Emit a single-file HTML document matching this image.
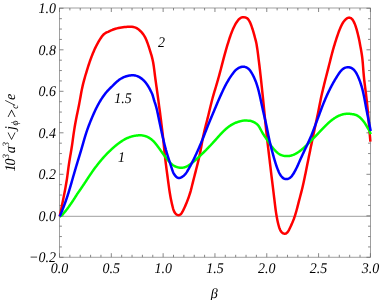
<!DOCTYPE html>
<html><head><meta charset="utf-8"><title>plot</title>
<style>
html,body{margin:0;padding:0;background:#fff;}
body{width:382px;height:300px;overflow:hidden;}
svg{display:block;will-change:transform;text-rendering:geometricPrecision;}
text{font-family:"Liberation Serif",serif;font-style:italic;font-size:14px;fill:#000;}
</style></head><body>
<svg width="382" height="300" viewBox="0 0 382 300">
<rect width="382" height="300" fill="#fff"/>
<path d="M59.5,216.3H370.4" stroke="#8c8c8c" stroke-width="0.85" fill="none"/>
<rect x="59.5" y="8.0" width="310.95" height="249.20" fill="none" stroke="#777" stroke-width="0.7"/>
<path d="M59.50,257.20v-4M59.50,8.00v4M69.86,257.20v-2.4M69.86,8.00v2.4M80.23,257.20v-2.4M80.23,8.00v2.4M90.59,257.20v-2.4M90.59,8.00v2.4M100.95,257.20v-2.4M100.95,8.00v2.4M111.32,257.20v-4M111.32,8.00v4M121.68,257.20v-2.4M121.68,8.00v2.4M132.04,257.20v-2.4M132.04,8.00v2.4M142.41,257.20v-2.4M142.41,8.00v2.4M152.77,257.20v-2.4M152.77,8.00v2.4M163.13,257.20v-4M163.13,8.00v4M173.50,257.20v-2.4M173.50,8.00v2.4M183.86,257.20v-2.4M183.86,8.00v2.4M194.22,257.20v-2.4M194.22,8.00v2.4M204.59,257.20v-2.4M204.59,8.00v2.4M214.95,257.20v-4M214.95,8.00v4M225.31,257.20v-2.4M225.31,8.00v2.4M235.68,257.20v-2.4M235.68,8.00v2.4M246.04,257.20v-2.4M246.04,8.00v2.4M256.40,257.20v-2.4M256.40,8.00v2.4M266.77,257.20v-4M266.77,8.00v4M277.13,257.20v-2.4M277.13,8.00v2.4M287.49,257.20v-2.4M287.49,8.00v2.4M297.86,257.20v-2.4M297.86,8.00v2.4M308.22,257.20v-2.4M308.22,8.00v2.4M318.58,257.20v-4M318.58,8.00v4M328.95,257.20v-2.4M328.95,8.00v2.4M339.31,257.20v-2.4M339.31,8.00v2.4M349.67,257.20v-2.4M349.67,8.00v2.4M360.04,257.20v-2.4M360.04,8.00v2.4M370.40,257.20v-4M370.40,8.00v4M59.50,257.30h4M370.45,257.30h-4M59.50,246.93h2.4M370.45,246.93h-2.4M59.50,236.55h2.4M370.45,236.55h-2.4M59.50,226.18h2.4M370.45,226.18h-2.4M59.50,215.80h4M370.45,215.80h-4M59.50,205.43h2.4M370.45,205.43h-2.4M59.50,195.05h2.4M370.45,195.05h-2.4M59.50,184.68h2.4M370.45,184.68h-2.4M59.50,174.30h4M370.45,174.30h-4M59.50,163.93h2.4M370.45,163.93h-2.4M59.50,153.55h2.4M370.45,153.55h-2.4M59.50,143.18h2.4M370.45,143.18h-2.4M59.50,132.80h4M370.45,132.80h-4M59.50,122.43h2.4M370.45,122.43h-2.4M59.50,112.05h2.4M370.45,112.05h-2.4M59.50,101.68h2.4M370.45,101.68h-2.4M59.50,91.30h4M370.45,91.30h-4M59.50,80.93h2.4M370.45,80.93h-2.4M59.50,70.55h2.4M370.45,70.55h-2.4M59.50,60.18h2.4M370.45,60.18h-2.4M59.50,49.80h4M370.45,49.80h-4M59.50,39.43h2.4M370.45,39.43h-2.4M59.50,29.05h2.4M370.45,29.05h-2.4M59.50,18.68h2.4M370.45,18.68h-2.4M59.50,8.30h4M370.45,8.30h-4" stroke="#6a6a6a" stroke-width="0.8" fill="none"/>
<g fill="none" stroke-width="2.5" stroke-linejoin="round" stroke-linecap="butt">
<path d="M59.70,216.55 L60.18,214.31 L60.46,212.94 L60.71,211.72 L60.97,210.47 L61.24,209.16 L61.51,207.81 L61.79,206.41 L62.08,204.98 L62.37,203.50 L62.67,202.00 L62.97,200.48 L63.28,198.94 L63.59,197.38 L63.90,195.83 L64.20,194.27 L64.51,192.72 L64.80,191.17 L65.10,189.64 L65.38,188.11 L65.66,186.59 L65.92,185.07 L66.18,183.57 L66.44,182.06 L66.68,180.57 L66.91,179.09 L67.13,177.61 L67.34,176.16 L67.53,174.70 L67.72,173.26 L67.90,171.81 L68.09,170.35 L68.28,168.87 L68.48,167.39 L68.69,165.89 L68.91,164.39 L69.14,162.88 L69.37,161.37 L69.62,159.86 L69.87,158.36 L70.12,156.87 L70.37,155.39 L70.63,153.91 L70.88,152.44 L71.12,150.97 L71.37,149.50 L71.60,148.03 L71.84,146.56 L72.06,145.09 L72.28,143.62 L72.49,142.14 L72.69,140.65 L72.89,139.17 L73.10,137.67 L73.30,136.17 L73.51,134.66 L73.73,133.14 L73.96,131.62 L74.19,130.10 L74.43,128.57 L74.68,127.04 L74.94,125.51 L75.21,123.99 L75.48,122.48 L75.76,120.99 L76.04,119.50 L76.33,118.03 L76.63,116.56 L76.92,115.10 L77.22,113.64 L77.52,112.17 L77.83,110.68 L78.14,109.19 L78.44,107.68 L78.75,106.16 L79.05,104.64 L79.34,103.13 L79.62,101.62 L79.90,100.12 L80.17,98.64 L80.43,97.16 L80.69,95.70 L80.95,94.24 L81.21,92.79 L81.49,91.33 L81.77,89.86 L82.08,88.39 L82.40,86.90 L82.75,85.40 L83.11,83.88 L83.50,82.36 L83.90,80.84 L84.31,79.31 L84.74,77.79 L85.17,76.28 L85.61,74.77 L86.06,73.27 L86.51,71.79 L86.96,70.31 L87.42,68.84 L87.88,67.39 L88.34,65.94 L88.81,64.50 L89.28,63.08 L89.76,61.66 L90.25,60.26 L90.75,58.86 L91.26,57.47 L91.78,56.09 L92.33,54.70 L92.90,53.30 L93.49,51.90 L94.10,50.49 L94.74,49.07 L95.41,47.66 L96.11,46.27 L96.82,44.89 L97.54,43.53 L98.28,42.21 L99.02,40.91 L99.78,39.65 L100.56,38.43 L101.36,37.24 L102.19,36.09 L103.10,34.98 L104.11,34.04 L105.29,33.20 L106.62,32.45 L108.08,31.81 L109.57,31.05 L111.06,30.37 L112.54,29.79 L114.00,29.27 L115.47,28.81 L116.96,28.40 L118.46,28.03 L119.98,27.68 L121.51,27.43 L123.03,27.23 L124.55,27.06 L126.05,26.92 L127.53,26.83 L128.98,26.77 L130.42,26.76 L131.89,26.83 L133.37,27.01 L134.80,27.35 L136.16,27.89 L137.50,28.65 L138.81,29.62 L140.07,30.75 L141.28,31.95 L142.32,33.12 L143.20,34.27 L143.98,35.42 L144.71,36.63 L145.40,37.88 L146.02,39.19 L146.57,40.56 L147.12,41.96 L147.65,43.40 L148.17,44.87 L148.67,46.36 L149.16,47.86 L149.64,49.35 L150.10,50.84 L150.56,52.32 L151.01,53.78 L151.44,55.23 L151.84,56.67 L152.20,58.09 L152.54,59.51 L152.85,60.93 L153.13,62.36 L153.38,63.78 L153.61,65.22 L153.83,66.67 L154.02,68.14 L154.22,69.63 L154.41,71.15 L154.60,72.69 L154.80,74.25 L155.00,75.82 L155.20,77.39 L155.41,78.96 L155.62,80.53 L155.84,82.08 L156.05,83.62 L156.26,85.15 L156.47,86.66 L156.69,88.16 L156.89,89.66 L157.10,91.16 L157.31,92.67 L157.52,94.17 L157.73,95.68 L157.94,97.18 L158.14,98.68 L158.35,100.17 L158.54,101.65 L158.74,103.13 L158.93,104.61 L159.13,106.08 L159.33,107.56 L159.53,109.04 L159.73,110.52 L159.93,112.02 L160.13,113.52 L160.33,115.04 L160.52,116.57 L160.71,118.11 L160.91,119.66 L161.10,121.22 L161.29,122.78 L161.48,124.34 L161.67,125.89 L161.85,127.43 L162.04,128.96 L162.22,130.48 L162.40,131.99 L162.58,133.50 L162.75,134.99 L162.92,136.48 L163.09,137.96 L163.25,139.44 L163.41,140.93 L163.56,142.41 L163.71,143.89 L163.86,145.36 L164.01,146.84 L164.15,148.32 L164.30,149.80 L164.44,151.27 L164.58,152.75 L164.73,154.22 L164.88,155.70 L165.05,157.18 L165.22,158.66 L165.40,160.15 L165.58,161.64 L165.76,163.15 L165.95,164.67 L166.15,166.21 L166.35,167.75 L166.56,169.30 L166.77,170.86 L166.97,172.42 L167.18,173.96 L167.39,175.50 L167.59,177.03 L167.79,178.54 L167.98,180.03 L168.18,181.51 L168.38,182.98 L168.57,184.45 L168.77,185.91 L168.98,187.37 L169.19,188.84 L169.41,190.32 L169.63,191.79 L169.87,193.27 L170.12,194.74 L170.37,196.21 L170.64,197.68 L170.92,199.14 L171.22,200.60 L171.52,202.04 L171.84,203.48 L172.18,204.90 L172.52,206.32 L172.88,207.71 L173.27,209.10 L173.74,210.53 L174.39,212.01 L175.32,213.43 L176.59,214.57 L178.08,215.15 L179.52,215.03 L180.75,214.21 L181.76,212.90 L182.64,211.36 L183.41,209.88 L184.08,208.51 L184.69,207.20 L185.28,205.88 L185.85,204.55 L186.41,203.20 L186.95,201.85 L187.48,200.49 L188.00,199.12 L188.51,197.73 L189.00,196.33 L189.47,194.92 L189.92,193.50 L190.36,192.06 L190.78,190.62 L191.16,189.17 L191.53,187.72 L191.89,186.27 L192.25,184.82 L192.62,183.36 L192.98,181.90 L193.35,180.43 L193.72,178.95 L194.10,177.45 L194.49,175.95 L194.88,174.43 L195.28,172.90 L195.68,171.36 L196.07,169.81 L196.46,168.27 L196.85,166.73 L197.23,165.20 L197.61,163.69 L197.97,162.19 L198.33,160.71 L198.68,159.24 L199.02,157.78 L199.35,156.33 L199.67,154.88 L199.98,153.44 L200.27,152.00 L200.55,150.56 L200.83,149.12 L201.09,147.67 L201.35,146.22 L201.61,144.77 L201.87,143.30 L202.14,141.82 L202.41,140.32 L202.70,138.81 L203.01,137.28 L203.33,135.75 L203.67,134.20 L204.01,132.66 L204.37,131.12 L204.74,129.59 L205.11,128.08 L205.49,126.58 L205.86,125.11 L206.23,123.65 L206.60,122.20 L206.97,120.76 L207.34,119.32 L207.70,117.88 L208.06,116.43 L208.43,114.98 L208.79,113.51 L209.14,112.03 L209.50,110.53 L209.86,109.03 L210.23,107.51 L210.59,106.00 L210.96,104.48 L211.33,102.97 L211.70,101.47 L212.08,99.98 L212.47,98.49 L212.86,97.02 L213.28,95.55 L213.71,94.09 L214.14,92.65 L214.57,91.22 L215.00,89.80 L215.42,88.39 L215.84,87.00 L216.26,85.61 L216.67,84.23 L217.07,82.85 L217.47,81.47 L217.87,80.09 L218.26,78.69 L218.66,77.27 L219.06,75.84 L219.45,74.39 L219.85,72.92 L220.24,71.44 L220.64,69.95 L221.03,68.45 L221.43,66.94 L221.82,65.42 L222.21,63.91 L222.60,62.40 L222.99,60.88 L223.38,59.37 L223.78,57.86 L224.19,56.36 L224.59,54.86 L225.01,53.36 L225.43,51.87 L225.85,50.38 L226.28,48.90 L226.71,47.43 L227.14,45.95 L227.59,44.49 L228.03,43.02 L228.49,41.56 L228.95,40.11 L229.42,38.67 L229.89,37.25 L230.38,35.83 L230.88,34.44 L231.39,33.06 L231.91,31.70 L232.46,30.37 L233.02,29.05 L233.61,27.75 L234.23,26.47 L234.88,25.21 L235.57,23.96 L236.31,22.72 L237.14,21.46 L238.11,20.18 L239.25,18.96 L240.55,17.95 L242.02,17.31 L243.65,17.13 L245.37,17.41 L246.84,18.06 L247.97,19.03 L248.87,20.25 L249.66,21.63 L250.34,23.05 L250.93,24.47 L251.45,25.89 L251.94,27.31 L252.41,28.76 L252.87,30.22 L253.31,31.70 L253.74,33.19 L254.16,34.69 L254.57,36.20 L254.97,37.70 L255.37,39.19 L255.75,40.67 L256.13,42.15 L256.43,43.61 L256.68,45.06 L256.91,46.51 L257.14,47.97 L257.36,49.43 L257.58,50.90 L257.78,52.38 L257.97,53.87 L258.16,55.38 L258.34,56.90 L258.51,58.41 L258.71,59.94 L258.90,61.46 L259.10,62.97 L259.28,64.49 L259.47,65.99 L259.64,67.49 L259.82,68.99 L259.99,70.48 L260.15,71.96 L260.31,73.44 L260.49,74.92 L260.66,76.39 L260.83,77.87 L260.99,79.34 L261.15,80.82 L261.31,82.30 L261.47,83.79 L261.63,85.28 L261.79,86.78 L261.95,88.29 L262.11,89.81 L262.26,91.33 L262.42,92.86 L262.58,94.39 L262.74,95.93 L262.90,97.47 L263.06,99.00 L263.22,100.54 L263.38,102.06 L263.53,103.58 L263.68,105.08 L263.83,106.58 L263.98,108.07 L264.12,109.56 L264.27,111.05 L264.41,112.55 L264.56,114.05 L264.70,115.55 L264.85,117.06 L265.00,118.56 L265.15,120.07 L265.30,121.57 L265.45,123.07 L265.60,124.57 L265.75,126.07 L265.91,127.58 L266.07,129.10 L266.23,130.62 L266.39,132.16 L266.55,133.70 L266.72,135.25 L266.89,136.80 L267.06,138.34 L267.23,139.88 L267.41,141.40 L267.58,142.92 L267.75,144.42 L267.93,145.92 L268.10,147.41 L268.28,148.89 L268.45,150.37 L268.63,151.86 L268.81,153.35 L268.99,154.84 L269.17,156.35 L269.35,157.87 L269.53,159.40 L269.72,160.94 L269.90,162.50 L270.09,164.06 L270.28,165.62 L270.46,167.18 L270.65,168.73 L270.83,170.27 L271.01,171.79 L271.19,173.30 L271.37,174.80 L271.55,176.28 L271.73,177.76 L271.91,179.24 L272.09,180.72 L272.27,182.20 L272.46,183.69 L272.64,185.18 L272.83,186.67 L273.01,188.17 L273.19,189.65 L273.37,191.14 L273.55,192.62 L273.73,194.10 L273.91,195.57 L274.08,197.04 L274.26,198.51 L274.43,199.98 L274.60,201.46 L274.78,202.95 L274.96,204.44 L275.14,205.95 L275.34,207.47 L275.54,209.01 L275.75,210.55 L275.97,212.11 L276.21,213.66 L276.46,215.23 L276.73,216.79 L277.02,218.34 L277.33,219.89 L277.66,221.43 L278.00,222.95 L278.37,224.46 L278.77,225.95 L279.19,227.40 L279.66,228.78 L280.23,230.09 L280.96,231.34 L281.92,232.48 L283.18,233.35 L284.61,233.73 L286.03,233.47 L287.26,232.56 L288.26,231.22 L289.05,229.78 L289.69,228.42 L290.29,227.18 L290.88,225.94 L291.48,224.65 L292.07,223.34 L292.64,221.99 L293.20,220.61 L293.74,219.21 L294.25,217.79 L294.75,216.35 L295.22,214.90 L295.67,213.45 L296.09,211.99 L296.51,210.52 L296.90,209.05 L297.29,207.58 L297.67,206.10 L298.05,204.61 L298.43,203.13 L298.81,201.66 L299.19,200.18 L299.58,198.72 L299.97,197.25 L300.35,195.80 L300.73,194.34 L301.11,192.88 L301.49,191.42 L301.86,189.95 L302.22,188.48 L302.58,187.00 L302.92,185.51 L303.26,184.02 L303.60,182.53 L303.92,181.04 L304.24,179.56 L304.55,178.08 L304.86,176.60 L305.16,175.12 L305.46,173.65 L305.76,172.18 L306.05,170.71 L306.35,169.24 L306.64,167.76 L306.94,166.27 L307.24,164.77 L307.54,163.26 L307.85,161.73 L308.16,160.19 L308.47,158.64 L308.79,157.08 L309.11,155.52 L309.43,153.97 L309.74,152.42 L310.06,150.88 L310.37,149.35 L310.68,147.85 L310.98,146.36 L311.28,144.88 L311.59,143.42 L311.89,141.97 L312.19,140.53 L312.49,139.09 L312.79,137.66 L313.09,136.23 L313.40,134.79 L313.70,133.35 L314.01,131.91 L314.31,130.45 L314.62,128.97 L314.94,127.49 L315.25,125.99 L315.57,124.49 L315.89,122.99 L316.21,121.50 L316.53,120.01 L316.85,118.53 L317.17,117.06 L317.48,115.59 L317.78,114.13 L318.08,112.67 L318.37,111.20 L318.66,109.72 L318.95,108.23 L319.25,106.73 L319.54,105.22 L319.84,103.69 L320.15,102.16 L320.46,100.63 L320.77,99.09 L321.10,97.57 L321.42,96.06 L321.76,94.56 L322.09,93.08 L322.43,91.62 L322.77,90.18 L323.10,88.75 L323.45,87.33 L323.79,85.93 L324.13,84.52 L324.48,83.12 L324.83,81.71 L325.19,80.30 L325.55,78.88 L325.91,77.45 L326.28,76.01 L326.66,74.56 L327.04,73.09 L327.42,71.61 L327.80,70.12 L328.19,68.61 L328.58,67.08 L328.96,65.55 L329.35,64.01 L329.74,62.47 L330.13,60.94 L330.50,59.42 L330.88,57.92 L331.25,56.44 L331.63,54.97 L332.01,53.53 L332.40,52.09 L332.79,50.67 L333.18,49.26 L333.59,47.85 L334.00,46.45 L334.42,45.04 L334.84,43.63 L335.28,42.21 L335.73,40.79 L336.19,39.36 L336.65,37.93 L337.13,36.49 L337.62,35.05 L338.13,33.62 L338.64,32.19 L339.17,30.77 L339.72,29.36 L340.31,27.95 L340.94,26.56 L341.60,25.17 L342.32,23.77 L343.20,22.33 L344.28,20.87 L345.51,19.51 L346.81,18.43 L348.13,17.76 L349.50,17.62 L350.83,18.07 L352.05,19.09 L353.11,20.52 L353.98,22.11 L354.69,23.66 L355.26,25.13 L355.76,26.57 L356.21,28.01 L356.63,29.46 L357.03,30.89 L357.41,32.33 L357.77,33.76 L358.12,35.19 L358.45,36.62 L358.77,38.04 L359.08,39.46 L359.39,40.88 L359.65,42.31 L359.91,43.74 L360.18,45.18 L360.44,46.62 L360.71,48.08 L360.98,49.54 L361.24,51.02 L361.49,52.50 L361.73,53.99 L361.95,55.48 L362.16,56.99 L362.34,58.50 L362.51,60.02 L362.65,61.56 L362.79,63.11 L362.92,64.68 L363.04,66.26 L363.16,67.85 L363.28,69.43 L363.40,71.01 L363.53,72.57 L363.67,74.11 L363.80,75.63 L363.94,77.12 L364.09,78.59 L364.24,80.05 L364.41,81.49 L364.58,82.91 L364.76,84.34 L364.94,85.76 L365.12,87.18 L365.30,88.62 L365.49,90.07 L365.67,91.53 L365.86,93.02 L366.04,94.52 L366.23,96.05 L366.41,97.58 L366.58,99.13 L366.75,100.69 L366.92,102.25 L367.08,103.80 L367.24,105.35 L367.40,106.89 L367.54,108.42 L367.69,109.94 L367.83,111.46 L367.96,112.97 L368.10,114.49 L368.23,116.02 L368.36,117.56 L368.49,119.11 L368.62,120.67 L368.75,122.23 L368.88,123.81 L369.01,125.38 L369.14,126.94 L369.27,128.49 L369.40,130.02 L369.52,131.51 L369.64,132.96 L369.76,134.36 L369.88,135.70 L369.99,136.97 L370.10,138.18 L370.21,139.51 L370.40,141.60" stroke="#ff0000"/>
<path d="M59.70,216.55 L60.33,216.27 L60.86,215.95 L61.31,215.60 L61.71,215.25 L62.09,214.90 L62.45,214.54 L62.80,214.18 L63.15,213.80 L63.50,213.41 L63.86,213.01 L64.22,212.59 L64.57,212.18 L64.93,211.75 L65.28,211.33 L65.63,210.90 L65.98,210.46 L66.33,210.02 L66.68,209.58 L67.02,209.13 L67.36,208.69 L67.70,208.24 L68.03,207.79 L68.37,207.33 L68.70,206.88 L69.02,206.42 L69.35,205.96 L69.67,205.51 L69.99,205.05 L70.31,204.59 L70.62,204.14 L70.93,203.69 L71.24,203.24 L71.55,202.79 L71.86,202.34 L72.16,201.89 L72.46,201.44 L72.76,200.99 L73.06,200.54 L73.35,200.08 L73.65,199.63 L73.94,199.18 L74.23,198.73 L74.53,198.28 L74.82,197.82 L75.10,197.37 L75.39,196.92 L75.68,196.47 L75.96,196.02 L76.25,195.57 L76.53,195.12 L76.82,194.66 L77.10,194.21 L77.38,193.77 L77.67,193.37 L77.95,192.97 L78.23,192.57 L78.51,192.16 L78.79,191.76 L79.07,191.36 L79.35,190.95 L79.63,190.55 L79.91,190.14 L80.19,189.74 L80.47,189.33 L80.74,188.93 L81.02,188.52 L81.30,188.11 L81.57,187.71 L81.85,187.30 L82.12,186.89 L82.40,186.48 L82.67,186.08 L82.94,185.67 L83.22,185.26 L83.49,184.85 L83.76,184.44 L84.03,184.03 L84.31,183.62 L84.58,183.20 L84.85,182.79 L85.13,182.38 L85.40,181.96 L85.67,181.55 L85.95,181.14 L86.22,180.72 L86.50,180.30 L86.78,179.88 L87.06,179.46 L87.33,179.03 L87.61,178.61 L87.89,178.19 L88.17,177.77 L88.45,177.35 L88.73,176.92 L89.01,176.50 L89.29,176.08 L89.58,175.66 L89.86,175.24 L90.14,174.82 L90.42,174.40 L90.70,173.99 L90.98,173.57 L91.27,173.16 L91.55,172.74 L91.83,172.33 L92.11,171.92 L92.40,171.51 L92.69,171.10 L92.97,170.69 L93.26,170.28 L93.55,169.88 L93.84,169.48 L94.13,169.07 L94.43,168.67 L94.72,168.27 L95.02,167.87 L95.32,167.48 L95.63,167.08 L95.93,166.68 L96.24,166.29 L96.55,165.88 L96.86,165.47 L97.18,165.06 L97.50,164.65 L97.82,164.24 L98.14,163.83 L98.46,163.42 L98.79,163.01 L99.12,162.60 L99.45,162.20 L99.78,161.79 L100.12,161.39 L100.45,160.99 L100.79,160.59 L101.13,160.18 L101.47,159.78 L101.81,159.39 L102.16,158.99 L102.50,158.59 L102.85,158.20 L103.19,157.81 L103.54,157.41 L103.89,157.02 L104.24,156.64 L104.59,156.25 L104.95,155.87 L105.30,155.49 L105.66,155.11 L106.01,154.73 L106.37,154.35 L106.73,153.98 L107.08,153.61 L107.45,153.24 L107.81,152.88 L108.17,152.51 L108.54,152.15 L108.90,151.79 L109.27,151.44 L109.64,151.08 L110.01,150.73 L110.39,150.38 L110.76,150.01 L111.14,149.65 L111.52,149.29 L111.90,148.94 L112.29,148.58 L112.67,148.23 L113.06,147.88 L113.46,147.54 L113.85,147.19 L114.25,146.85 L114.65,146.51 L115.05,146.17 L115.45,145.83 L115.86,145.50 L116.27,145.17 L116.68,144.84 L117.09,144.51 L117.51,144.19 L117.93,143.87 L118.35,143.55 L118.78,143.23 L119.21,142.92 L119.64,142.60 L120.07,142.30 L120.51,141.99 L120.95,141.69 L121.39,141.39 L121.84,141.10 L122.29,140.81 L122.74,140.53 L123.20,140.25 L123.67,139.98 L124.13,139.71 L124.60,139.45 L125.08,139.18 L125.56,138.92 L126.04,138.68 L126.53,138.44 L127.03,138.21 L127.53,137.99 L128.03,137.77 L128.54,137.57 L129.05,137.37 L129.57,137.18 L130.08,137.00 L130.60,136.83 L131.13,136.67 L131.65,136.51 L132.17,136.37 L132.70,136.24 L133.23,136.12 L133.75,136.00 L134.28,135.89 L134.80,135.80 L135.32,135.71 L135.84,135.62 L136.35,135.55 L136.87,135.49 L137.37,135.43 L137.88,135.39 L138.38,135.35 L138.88,135.31 L139.38,135.29 L139.87,135.28 L140.36,135.28 L140.86,135.30 L141.35,135.33 L141.85,135.38 L142.35,135.44 L142.85,135.52 L143.35,135.61 L143.86,135.72 L144.37,135.85 L144.88,135.99 L145.38,136.14 L145.89,136.31 L146.39,136.49 L146.88,136.68 L147.37,136.88 L147.85,137.10 L148.32,137.32 L148.78,137.58 L149.23,137.85 L149.67,138.13 L150.10,138.42 L150.52,138.72 L150.93,139.02 L151.33,139.33 L151.73,139.65 L152.11,139.98 L152.49,140.32 L152.86,140.66 L153.22,141.00 L153.58,141.35 L153.94,141.71 L154.29,142.08 L154.63,142.47 L154.97,142.88 L155.31,143.28 L155.64,143.69 L155.97,144.11 L156.30,144.52 L156.63,144.94 L156.95,145.37 L157.27,145.80 L157.60,146.23 L157.91,146.66 L158.23,147.09 L158.55,147.52 L158.86,147.95 L159.17,148.38 L159.49,148.81 L159.80,149.24 L160.11,149.68 L160.42,150.11 L160.73,150.54 L161.04,150.98 L161.36,151.41 L161.67,151.85 L161.98,152.28 L162.29,152.72 L162.60,153.15 L162.91,153.59 L163.23,154.02 L163.54,154.45 L163.86,154.88 L164.18,155.31 L164.50,155.74 L164.82,156.16 L165.14,156.59 L165.46,157.02 L165.79,157.45 L166.12,157.89 L166.45,158.32 L166.79,158.75 L167.12,159.17 L167.46,159.60 L167.81,160.02 L168.16,160.43 L168.51,160.84 L168.87,161.25 L169.23,161.65 L169.60,162.05 L169.97,162.44 L170.35,162.83 L170.74,163.20 L171.14,163.57 L171.54,163.94 L171.96,164.29 L172.38,164.62 L172.80,164.94 L173.23,165.25 L173.67,165.53 L174.11,165.80 L174.57,166.05 L175.03,166.29 L175.50,166.50 L175.99,166.71 L176.48,166.90 L176.99,167.07 L177.52,167.23 L178.05,167.37 L178.59,167.49 L179.14,167.60 L179.69,167.68 L180.25,167.75 L180.80,167.77 L181.35,167.76 L181.89,167.73 L182.42,167.69 L182.94,167.62 L183.46,167.53 L183.96,167.42 L184.46,167.29 L184.94,167.14 L185.43,166.97 L185.90,166.78 L186.37,166.57 L186.84,166.34 L187.31,166.09 L187.76,165.84 L188.22,165.57 L188.66,165.29 L189.10,165.00 L189.54,164.71 L189.97,164.42 L190.39,164.11 L190.82,163.81 L191.23,163.50 L191.65,163.18 L192.06,162.86 L192.47,162.54 L192.88,162.21 L193.29,161.88 L193.69,161.55 L194.09,161.22 L194.49,160.88 L194.89,160.54 L195.29,160.20 L195.68,159.85 L196.08,159.50 L196.47,159.15 L196.87,158.80 L197.26,158.44 L197.65,158.09 L198.04,157.73 L198.43,157.37 L198.82,157.01 L199.21,156.65 L199.59,156.28 L199.98,155.92 L200.36,155.56 L200.74,155.19 L201.12,154.82 L201.50,154.46 L201.88,154.09 L202.26,153.72 L202.64,153.35 L203.01,152.99 L203.39,152.62 L203.76,152.25 L204.13,151.88 L204.50,151.52 L204.87,151.15 L205.24,150.78 L205.60,150.41 L205.97,150.05 L206.33,149.68 L206.69,149.31 L207.05,148.95 L207.41,148.58 L207.77,148.21 L208.13,147.84 L208.49,147.47 L208.84,147.10 L209.20,146.73 L209.55,146.36 L209.90,145.99 L210.26,145.62 L210.61,145.24 L210.96,144.87 L211.31,144.50 L211.66,144.12 L212.01,143.74 L212.36,143.36 L212.71,142.98 L213.05,142.60 L213.40,142.22 L213.75,141.84 L214.10,141.46 L214.44,141.07 L214.79,140.69 L215.14,140.30 L215.48,139.91 L215.83,139.53 L216.18,139.14 L216.52,138.75 L216.87,138.36 L217.22,137.97 L217.56,137.58 L217.91,137.19 L218.26,136.80 L218.61,136.41 L218.96,136.02 L219.32,135.63 L219.67,135.25 L220.02,134.86 L220.38,134.47 L220.74,134.09 L221.10,133.70 L221.46,133.32 L221.82,132.94 L222.19,132.56 L222.56,132.18 L222.93,131.81 L223.30,131.43 L223.68,131.06 L224.06,130.69 L224.45,130.33 L224.83,129.97 L225.22,129.61 L225.61,129.26 L226.01,128.91 L226.41,128.56 L226.81,128.22 L227.22,127.89 L227.63,127.56 L228.04,127.24 L228.46,126.91 L228.88,126.59 L229.31,126.28 L229.74,125.97 L230.17,125.67 L230.61,125.38 L231.05,125.09 L231.49,124.82 L231.94,124.55 L232.40,124.29 L232.86,124.04 L233.32,123.80 L233.79,123.56 L234.26,123.34 L234.74,123.12 L235.23,122.92 L235.72,122.72 L236.21,122.53 L236.71,122.35 L237.21,122.19 L237.72,122.03 L238.23,121.88 L238.74,121.71 L239.26,121.54 L239.78,121.39 L240.30,121.24 L240.81,121.11 L241.33,120.99 L241.85,120.87 L242.37,120.78 L242.89,120.69 L243.41,120.62 L243.94,120.56 L244.46,120.52 L244.98,120.49 L245.50,120.49 L246.02,120.49 L246.53,120.52 L247.05,120.56 L247.55,120.62 L248.06,120.69 L248.55,120.72 L249.04,120.71 L249.53,120.72 L250.01,120.74 L250.49,120.82 L250.97,120.97 L251.45,121.14 L251.93,121.32 L252.41,121.52 L252.90,121.72 L253.38,121.94 L253.85,122.17 L254.33,122.41 L254.79,122.66 L255.25,122.93 L255.69,123.21 L256.12,123.50 L256.54,123.81 L256.94,124.13 L257.31,124.46 L257.67,124.81 L258.02,125.17 L258.34,125.56 L258.65,126.01 L258.95,126.47 L259.23,126.93 L259.51,127.40 L259.78,127.87 L260.04,128.35 L260.30,128.83 L260.56,129.31 L260.81,129.79 L261.07,130.27 L261.32,130.75 L261.58,131.22 L261.84,131.70 L262.10,132.18 L262.37,132.65 L262.63,133.09 L262.90,133.54 L263.17,133.98 L263.45,134.42 L263.73,134.86 L264.01,135.29 L264.30,135.73 L264.58,136.16 L264.88,136.59 L265.17,137.02 L265.47,137.45 L265.77,137.87 L266.07,138.30 L266.38,138.73 L266.69,139.21 L267.00,139.68 L267.32,140.15 L267.64,140.61 L267.96,141.08 L268.28,141.55 L268.61,142.02 L268.94,142.50 L269.27,142.99 L269.61,143.49 L269.95,143.99 L270.29,144.48 L270.63,144.98 L270.98,145.47 L271.32,145.97 L271.67,146.46 L272.03,146.95 L272.38,147.42 L272.74,147.85 L273.10,148.27 L273.47,148.68 L273.83,149.10 L274.20,149.51 L274.57,149.92 L274.95,150.32 L275.32,150.72 L275.70,151.12 L276.09,151.51 L276.47,151.88 L276.86,152.22 L277.26,152.56 L277.66,152.89 L278.07,153.21 L278.48,153.51 L278.90,153.80 L279.33,154.08 L279.77,154.33 L280.21,154.57 L280.67,154.80 L281.13,155.00 L281.60,155.19 L282.08,155.36 L282.57,155.51 L283.08,155.65 L283.59,155.76 L284.11,155.86 L284.65,155.95 L285.19,156.01 L285.74,156.06 L286.29,156.09 L286.84,156.10 L287.40,156.10 L287.95,156.07 L288.50,156.03 L289.04,155.97 L289.57,155.90 L290.10,155.80 L290.62,155.69 L291.12,155.57 L291.62,155.43 L292.11,155.27 L292.59,155.11 L293.07,154.93 L293.54,154.74 L294.00,154.54 L294.46,154.33 L294.92,154.11 L295.37,153.89 L295.82,153.65 L296.27,153.40 L296.71,153.14 L297.15,152.88 L297.59,152.61 L298.03,152.32 L298.46,152.04 L298.89,151.74 L299.31,151.44 L299.74,151.13 L300.15,150.82 L300.57,150.50 L300.98,150.18 L301.39,149.85 L301.79,149.52 L302.19,149.19 L302.59,148.85 L302.98,148.51 L303.38,148.17 L303.77,147.82 L304.15,147.48 L304.54,147.13 L304.92,146.77 L305.30,146.42 L305.68,146.07 L306.06,145.71 L306.44,145.35 L306.81,144.99 L307.18,144.63 L307.56,144.27 L307.93,143.90 L308.30,143.54 L308.67,143.17 L309.04,142.81 L309.40,142.44 L309.77,142.07 L310.14,141.70 L310.51,141.33 L310.87,140.96 L311.24,140.59 L311.61,140.22 L311.97,139.85 L312.34,139.47 L312.70,139.10 L313.07,138.72 L313.44,138.34 L313.80,137.97 L314.17,137.59 L314.53,137.21 L314.90,136.83 L315.27,136.45 L315.63,136.07 L316.00,135.68 L316.36,135.30 L316.73,134.92 L317.09,134.54 L317.45,134.15 L317.82,133.77 L318.18,133.39 L318.55,133.00 L318.91,132.62 L319.27,132.23 L319.63,131.85 L320.00,131.46 L320.36,131.08 L320.72,130.70 L321.09,130.31 L321.45,129.93 L321.81,129.55 L322.18,129.17 L322.54,128.79 L322.91,128.41 L323.27,128.03 L323.64,127.65 L324.01,127.27 L324.38,126.89 L324.75,126.52 L325.12,126.14 L325.49,125.77 L325.86,125.40 L326.24,125.03 L326.62,124.67 L326.99,124.30 L327.38,123.94 L327.76,123.58 L328.14,123.23 L328.53,122.87 L328.92,122.52 L329.31,122.17 L329.71,121.83 L330.11,121.49 L330.51,121.15 L330.91,120.82 L331.32,120.49 L331.73,120.16 L332.15,119.84 L332.57,119.53 L333.00,119.21 L333.43,118.91 L333.86,118.61 L334.30,118.31 L334.75,118.02 L335.20,117.73 L335.66,117.46 L336.12,117.18 L336.59,116.92 L337.06,116.66 L337.54,116.41 L338.02,116.17 L338.51,115.93 L338.99,115.71 L339.48,115.49 L339.98,115.29 L340.47,115.09 L340.96,114.91 L341.45,114.74 L341.94,114.58 L342.44,114.44 L342.93,114.31 L343.42,114.20 L343.91,114.10 L344.41,114.01 L344.90,113.94 L345.40,113.89 L345.91,113.85 L346.41,113.82 L346.92,113.80 L347.43,113.80 L347.95,113.80 L348.47,113.81 L348.98,113.82 L349.50,113.83 L350.02,113.86 L350.54,113.90 L351.05,113.96 L351.56,114.03 L352.07,114.12 L352.58,114.19 L353.08,114.25 L353.57,114.33 L354.06,114.42 L354.54,114.54 L355.02,114.67 L355.49,114.82 L355.96,114.99 L356.41,115.18 L356.87,115.40 L357.31,115.65 L357.75,115.90 L358.18,116.18 L358.61,116.47 L359.03,116.77 L359.45,117.08 L359.86,117.41 L360.26,117.75 L360.66,118.14 L361.05,118.53 L361.44,118.94 L361.82,119.35 L362.19,119.77 L362.56,120.20 L362.92,120.62 L363.28,121.05 L363.63,121.49 L363.97,121.92 L364.31,122.36 L364.64,122.88 L364.97,123.40 L365.29,123.92 L365.60,124.44 L365.90,124.95 L366.20,125.45 L366.50,125.95 L366.78,126.44 L367.06,126.93 L367.33,127.40 L367.59,127.80 L367.85,128.19 L368.10,128.58 L368.34,128.96 L368.57,129.33 L368.79,129.69 L369.01,130.05 L369.24,130.42 L369.46,130.95 L369.71,131.58 L369.98,132.30 L370.31,133.17 L370.70,134.25" stroke="#00ff00"/>
<path d="M59.70,216.55 L60.27,215.22 L60.65,214.30 L60.96,213.55 L61.24,212.86 L61.53,212.17 L61.81,211.45 L62.11,210.71 L62.41,209.94 L62.72,209.16 L63.03,208.35 L63.35,207.53 L63.67,206.70 L63.99,205.85 L64.31,204.99 L64.64,204.12 L64.96,203.24 L65.28,202.35 L65.60,201.46 L65.92,200.56 L66.23,199.66 L66.54,198.76 L66.85,197.85 L67.15,196.94 L67.44,196.03 L67.74,195.11 L68.03,194.20 L68.32,193.29 L68.61,192.38 L68.89,191.47 L69.17,190.56 L69.44,189.66 L69.71,188.76 L69.98,187.86 L70.25,186.97 L70.51,186.08 L70.76,185.19 L71.02,184.30 L71.27,183.42 L71.53,182.53 L71.78,181.65 L72.03,180.76 L72.29,179.87 L72.54,178.98 L72.80,178.09 L73.06,177.19 L73.31,176.29 L73.58,175.39 L73.84,174.48 L74.10,173.57 L74.37,172.65 L74.63,171.74 L74.90,170.82 L75.17,169.90 L75.44,168.98 L75.71,168.07 L75.98,167.15 L76.25,166.24 L76.53,165.33 L76.80,164.43 L77.07,163.53 L77.34,162.63 L77.61,161.74 L77.89,160.85 L78.16,159.97 L78.43,159.08 L78.70,158.20 L78.97,157.32 L79.23,156.44 L79.50,155.56 L79.77,154.68 L80.03,153.81 L80.30,152.93 L80.56,152.05 L80.82,151.17 L81.08,150.30 L81.34,149.42 L81.60,148.55 L81.85,147.67 L82.10,146.80 L82.36,145.93 L82.61,145.06 L82.86,144.18 L83.11,143.31 L83.35,142.44 L83.60,141.57 L83.86,140.69 L84.11,139.82 L84.36,138.94 L84.62,138.06 L84.88,137.19 L85.15,136.31 L85.41,135.43 L85.69,134.55 L85.97,133.68 L86.25,132.80 L86.54,131.93 L86.83,131.06 L87.13,130.20 L87.43,129.33 L87.74,128.47 L88.05,127.61 L88.37,126.76 L88.69,125.90 L89.01,125.05 L89.34,124.20 L89.67,123.34 L90.01,122.49 L90.35,121.64 L90.70,120.79 L91.05,119.94 L91.41,119.09 L91.76,118.24 L92.12,117.38 L92.48,116.53 L92.85,115.68 L93.22,114.83 L93.59,113.97 L93.97,113.12 L94.35,112.27 L94.74,111.42 L95.13,110.57 L95.54,109.72 L95.94,108.88 L96.36,108.03 L96.78,107.19 L97.21,106.35 L97.66,105.51 L98.11,104.67 L98.57,103.83 L99.04,103.00 L99.51,102.17 L100.00,101.35 L100.50,100.52 L101.01,99.70 L101.52,98.89 L102.05,98.08 L102.58,97.28 L103.12,96.49 L103.66,95.70 L104.22,94.92 L104.78,94.16 L105.35,93.42 L105.94,92.72 L106.53,92.03 L107.13,91.35 L107.74,90.68 L108.35,90.03 L108.96,89.39 L109.58,88.75 L110.21,88.13 L110.84,87.51 L111.47,86.90 L112.11,86.30 L112.74,85.67 L113.37,85.03 L114.01,84.39 L114.65,83.76 L115.30,83.13 L115.97,82.51 L116.65,81.89 L117.35,81.28 L118.07,80.69 L118.81,80.11 L119.57,79.55 L120.37,79.02 L121.19,78.52 L122.03,78.06 L122.88,77.62 L123.75,77.21 L124.64,76.85 L125.54,76.53 L126.46,76.24 L127.40,75.99 L128.37,75.77 L129.35,75.59 L130.31,75.44 L131.25,75.34 L132.14,75.28 L133.01,75.27 L133.86,75.32 L134.71,75.43 L135.58,75.60 L136.45,75.84 L137.31,76.14 L138.16,76.50 L138.99,76.92 L139.79,77.40 L140.55,77.89 L141.27,78.37 L141.96,78.88 L142.62,79.42 L143.25,79.98 L143.86,80.57 L144.46,81.20 L145.04,81.89 L145.60,82.59 L146.15,83.30 L146.69,84.03 L147.21,84.76 L147.73,85.51 L148.23,86.26 L148.72,87.11 L149.19,87.97 L149.66,88.83 L150.12,89.70 L150.56,90.57 L151.00,91.44 L151.42,92.32 L151.83,93.19 L152.24,94.06 L152.55,94.98 L152.83,95.91 L153.11,96.83 L153.38,97.76 L153.64,98.68 L153.89,99.60 L154.13,100.52 L154.44,101.44 L154.77,102.35 L155.08,103.27 L155.38,104.18 L155.67,105.11 L155.94,106.03 L156.20,106.96 L156.45,107.90 L156.69,108.84 L156.92,109.78 L157.14,110.73 L157.35,111.67 L157.55,112.62 L157.75,113.57 L157.95,114.52 L158.14,115.47 L158.33,116.42 L158.52,117.36 L158.71,118.31 L158.90,119.25 L159.10,120.19 L159.29,121.12 L159.49,122.05 L159.69,122.98 L159.89,123.90 L160.10,124.82 L160.30,125.74 L160.48,126.63 L160.67,127.52 L160.85,128.40 L161.04,129.29 L161.23,130.18 L161.42,131.08 L161.62,131.97 L161.82,132.87 L162.02,133.78 L162.22,134.68 L162.43,135.59 L162.63,136.50 L162.84,137.41 L163.05,138.32 L163.27,139.23 L163.48,140.14 L163.70,141.05 L163.91,141.96 L164.13,142.87 L164.36,143.77 L164.58,144.68 L164.81,145.58 L165.04,146.48 L165.27,147.37 L165.51,148.27 L165.75,149.16 L165.99,150.06 L166.25,150.95 L166.50,151.84 L166.76,152.73 L167.03,153.62 L167.30,154.51 L167.57,155.40 L167.84,156.28 L168.13,157.17 L168.41,158.06 L168.70,158.95 L168.98,159.83 L169.27,160.72 L169.55,161.59 L169.84,162.47 L170.12,163.34 L170.40,164.21 L170.68,165.07 L170.96,165.93 L171.24,166.78 L171.51,167.62 L171.79,168.46 L172.06,169.29 L172.33,170.11 L172.62,170.93 L172.93,171.75 L173.28,172.58 L173.69,173.42 L174.19,174.27 L174.76,175.12 L175.41,175.94 L176.12,176.67 L176.88,177.28 L177.68,177.71 L178.51,177.94 L179.41,177.95 L180.33,177.76 L181.24,177.40 L182.12,176.91 L182.94,176.34 L183.69,175.74 L184.37,175.12 L184.98,174.48 L185.54,173.83 L186.07,173.13 L186.59,172.37 L187.09,171.58 L187.58,170.77 L188.07,169.95 L188.55,169.13 L189.02,168.30 L189.48,167.47 L189.94,166.64 L190.39,165.80 L190.83,164.97 L191.26,164.14 L191.69,163.32 L192.12,162.49 L192.54,161.66 L192.95,160.84 L193.36,160.01 L193.76,159.19 L194.16,158.37 L194.56,157.54 L194.95,156.72 L195.34,155.90 L195.73,155.08 L196.11,154.25 L196.49,153.43 L196.87,152.60 L197.25,151.77 L197.62,150.93 L198.00,150.09 L198.37,149.25 L198.74,148.41 L199.11,147.56 L199.47,146.71 L199.84,145.85 L200.20,144.99 L200.56,144.12 L200.93,143.26 L201.28,142.38 L201.64,141.51 L202.00,140.63 L202.36,139.74 L202.71,138.86 L203.07,137.97 L203.42,137.08 L203.77,136.19 L204.12,135.31 L204.47,134.42 L204.82,133.54 L205.17,132.66 L205.51,131.79 L205.85,130.92 L206.18,130.05 L206.52,129.19 L206.86,128.32 L207.20,127.47 L207.54,126.61 L207.88,125.76 L208.22,124.91 L208.56,124.06 L208.90,123.22 L209.25,122.37 L209.59,121.53 L209.94,120.69 L210.29,119.84 L210.64,119.00 L210.99,118.16 L211.34,117.32 L211.70,116.47 L212.05,115.63 L212.41,114.78 L212.76,113.94 L213.12,113.09 L213.47,112.24 L213.83,111.40 L214.18,110.55 L214.54,109.70 L214.90,108.84 L215.25,107.99 L215.61,107.14 L215.97,106.28 L216.33,105.43 L216.69,104.57 L217.05,103.71 L217.41,102.85 L217.78,101.99 L218.14,101.13 L218.51,100.28 L218.89,99.42 L219.27,98.56 L219.64,97.70 L220.03,96.83 L220.41,95.97 L220.80,95.11 L221.19,94.25 L221.59,93.38 L221.98,92.52 L222.38,91.66 L222.78,90.80 L223.19,89.94 L223.60,89.08 L224.02,88.23 L224.44,87.38 L224.87,86.53 L225.30,85.69 L225.74,84.86 L226.18,84.03 L226.64,83.20 L227.09,82.39 L227.56,81.58 L228.03,80.78 L228.50,79.98 L228.99,79.19 L229.48,78.42 L229.97,77.65 L230.47,76.88 L230.98,76.13 L231.49,75.38 L232.01,74.64 L232.54,73.91 L233.08,73.19 L233.62,72.48 L234.18,71.79 L234.75,71.11 L235.36,70.46 L236.00,69.84 L236.71,69.25 L237.50,68.69 L238.36,68.16 L239.28,67.68 L240.21,67.27 L241.14,66.95 L242.04,66.74 L242.91,66.66 L243.80,66.69 L244.70,66.85 L245.61,67.12 L246.50,67.49 L247.34,67.94 L248.09,68.46 L248.77,69.03 L249.36,69.65 L249.91,70.30 L250.43,71.01 L250.94,71.77 L251.44,72.56 L251.93,73.40 L252.42,74.25 L252.89,75.12 L253.34,76.00 L253.77,76.88 L254.18,77.77 L254.57,78.65 L254.95,79.53 L255.31,80.42 L255.66,81.29 L255.99,82.17 L256.30,83.04 L256.60,83.91 L256.89,84.78 L257.17,85.65 L257.44,86.52 L257.69,87.39 L257.94,88.27 L258.19,89.14 L258.42,90.02 L258.65,90.91 L258.88,91.80 L259.09,92.69 L259.31,93.59 L259.52,94.49 L259.73,95.39 L259.93,96.30 L260.14,97.22 L260.34,98.13 L260.53,99.05 L260.73,99.96 L260.93,100.88 L261.12,101.79 L261.31,102.70 L261.51,103.61 L261.70,104.51 L261.89,105.41 L262.09,106.31 L262.28,107.21 L262.48,108.10 L262.67,108.99 L262.87,109.89 L263.07,110.78 L263.27,111.67 L263.48,112.57 L263.68,113.47 L263.89,114.37 L264.10,115.27 L264.31,116.18 L264.52,117.09 L264.73,118.00 L264.94,118.92 L265.15,119.83 L265.36,120.75 L265.57,121.67 L265.78,122.59 L265.98,123.50 L266.18,124.42 L266.37,125.34 L266.57,126.25 L266.76,127.16 L266.95,128.07 L267.13,128.98 L267.31,129.88 L267.49,130.78 L267.67,131.68 L267.85,132.58 L268.03,133.48 L268.20,134.38 L268.38,135.27 L268.56,136.17 L268.75,137.07 L268.93,137.98 L269.12,138.88 L269.32,139.78 L269.52,140.69 L269.72,141.60 L269.93,142.51 L270.15,143.41 L270.37,144.32 L270.59,145.22 L270.81,146.13 L271.04,147.03 L271.27,147.93 L271.50,148.82 L271.74,149.72 L271.97,150.61 L272.21,151.50 L272.44,152.39 L272.68,153.28 L272.92,154.17 L273.17,155.06 L273.42,155.95 L273.67,156.84 L273.92,157.73 L274.18,158.63 L274.44,159.52 L274.70,160.42 L274.97,161.31 L275.24,162.20 L275.52,163.09 L275.80,163.97 L276.09,164.86 L276.39,165.73 L276.69,166.61 L276.99,167.47 L277.31,168.33 L277.63,169.18 L277.96,170.03 L278.30,170.87 L278.66,171.70 L279.04,172.52 L279.46,173.35 L279.92,174.16 L280.42,174.97 L280.96,175.77 L281.54,176.53 L282.17,177.23 L282.86,177.86 L283.62,178.37 L284.46,178.75 L285.38,178.98 L286.36,179.03 L287.36,178.93 L288.31,178.67 L289.19,178.30 L289.98,177.82 L290.69,177.24 L291.33,176.59 L291.94,175.87 L292.52,175.11 L293.07,174.33 L293.57,173.54 L294.04,172.76 L294.49,171.98 L294.91,171.20 L295.33,170.41 L295.74,169.61 L296.14,168.81 L296.54,168.00 L296.93,167.18 L297.32,166.36 L297.70,165.53 L298.08,164.69 L298.45,163.84 L298.83,162.99 L299.20,162.13 L299.57,161.27 L299.93,160.40 L300.30,159.54 L300.70,158.67 L301.11,157.80 L301.51,156.93 L301.92,156.07 L302.32,155.20 L302.72,154.34 L303.12,153.48 L303.51,152.62 L303.91,151.76 L304.31,150.90 L304.71,150.04 L305.12,149.19 L305.52,148.33 L305.93,147.48 L306.33,146.63 L306.74,145.77 L307.15,144.92 L307.53,144.07 L307.91,143.22 L308.29,142.37 L308.68,141.52 L309.06,140.66 L309.45,139.81 L309.83,138.95 L310.22,138.09 L310.61,137.23 L311.00,136.37 L311.38,135.50 L311.71,134.64 L312.05,133.77 L312.39,132.89 L312.72,132.02 L313.06,131.15 L313.39,130.27 L313.72,129.40 L314.05,128.53 L314.37,127.66 L314.70,126.80 L315.02,125.94 L315.34,125.08 L315.66,124.22 L315.98,123.37 L316.29,122.53 L316.61,121.68 L316.92,120.84 L317.23,120.00 L317.55,119.16 L317.86,118.32 L318.17,117.48 L318.48,116.64 L318.80,115.79 L319.11,114.95 L319.42,114.10 L319.74,113.26 L320.06,112.40 L320.37,111.55 L320.69,110.69 L321.01,109.83 L321.33,108.96 L321.65,108.10 L321.97,107.23 L322.30,106.36 L322.65,105.49 L323.00,104.62 L323.35,103.75 L323.71,102.88 L324.06,102.02 L324.42,101.16 L324.78,100.30 L325.14,99.45 L325.50,98.60 L325.86,97.75 L326.23,96.91 L326.61,96.06 L326.98,95.22 L327.37,94.38 L327.75,93.54 L328.15,92.70 L328.54,91.86 L328.95,91.02 L329.36,90.18 L329.78,89.33 L330.20,88.49 L330.63,87.65 L331.06,86.82 L331.50,85.98 L331.95,85.15 L332.40,84.32 L332.85,83.49 L333.31,82.66 L333.78,81.84 L334.25,81.03 L334.73,80.21 L335.21,79.40 L335.70,78.59 L336.19,77.78 L336.69,76.98 L337.20,76.18 L337.71,75.39 L338.23,74.60 L338.75,73.81 L339.29,73.04 L339.83,72.27 L340.40,71.52 L341.00,70.79 L341.64,70.09 L342.33,69.45 L343.08,68.87 L343.87,68.37 L344.69,67.94 L345.54,67.61 L346.40,67.37 L347.28,67.24 L348.16,67.20 L349.05,67.27 L349.93,67.44 L350.79,67.72 L351.62,68.10 L352.41,68.57 L353.16,69.13 L353.84,69.76 L354.46,70.44 L355.03,71.16 L355.55,71.90 L356.02,72.66 L356.46,73.42 L356.88,74.19 L357.28,74.98 L357.67,75.78 L358.04,76.59 L358.40,77.42 L358.75,78.25 L359.10,79.10 L359.43,79.96 L359.76,80.83 L360.07,81.70 L360.38,82.59 L360.68,83.48 L360.97,84.38 L361.25,85.29 L361.53,86.20 L361.79,87.11 L362.05,88.03 L362.30,88.95 L362.54,89.87 L362.77,90.79 L362.99,91.71 L363.21,92.63 L363.41,93.55 L363.61,94.46 L363.80,95.38 L363.99,96.29 L364.17,97.20 L364.34,98.10 L364.52,99.01 L364.68,99.91 L364.85,100.81 L365.01,101.71 L365.17,102.60 L365.33,103.49 L365.50,104.39 L365.66,105.28 L365.82,106.17 L365.99,107.07 L366.16,107.97 L366.33,108.88 L366.50,109.79 L366.68,110.70 L366.86,111.62 L367.04,112.54 L367.22,113.47 L367.40,114.40 L367.59,115.33 L367.78,116.27 L367.96,117.20 L368.15,118.13 L368.33,119.05 L368.52,119.97 L368.70,120.88 L368.88,121.77 L369.06,122.65 L369.23,123.52 L369.40,124.36 L369.57,125.19 L369.73,125.99 L369.88,126.77 L370.03,127.54 L370.20,128.39 L370.40,129.43 L370.70,130.95" stroke="#0000ff"/>
</g>
<text transform="translate(59.50,272.80) scale(1,1.06)" text-anchor="middle">0.0</text><text transform="translate(111.32,272.80) scale(1,1.06)" text-anchor="middle">0.5</text><text transform="translate(163.13,272.80) scale(1,1.06)" text-anchor="middle">1.0</text><text transform="translate(214.95,272.80) scale(1,1.06)" text-anchor="middle">1.5</text><text transform="translate(266.77,272.80) scale(1,1.06)" text-anchor="middle">2.0</text><text transform="translate(318.58,272.80) scale(1,1.06)" text-anchor="middle">2.5</text><text transform="translate(370.40,272.80) scale(1,1.06)" text-anchor="middle">3.0</text>
<text transform="translate(55.90,262.10) scale(1,1.06)" text-anchor="end">−0.2</text><text transform="translate(55.90,220.60) scale(1,1.06)" text-anchor="end">0.0</text><text transform="translate(55.90,179.10) scale(1,1.06)" text-anchor="end">0.2</text><text transform="translate(55.90,137.60) scale(1,1.06)" text-anchor="end">0.4</text><text transform="translate(55.90,96.10) scale(1,1.06)" text-anchor="end">0.6</text><text transform="translate(55.90,54.60) scale(1,1.06)" text-anchor="end">0.8</text><text transform="translate(55.90,13.10) scale(1,1.06)" text-anchor="end">1.0</text>
<text transform="translate(114.30,102.90) scale(1,1.06)" text-anchor="start">1.5</text>
<text transform="translate(118.00,161.60) scale(1,1.06)" text-anchor="start">1</text>
<text transform="translate(158.00,46.80) scale(1,1.06)" text-anchor="start">2</text>
<text x="214.2" y="298" font-size="15.5" text-anchor="middle">β</text>
<text transform="translate(15.2,170.2) rotate(-90) scale(1,1.06)"><tspan x="-1.20" y="0" font-size="14">1</tspan><tspan x="4.80" y="0" font-size="14">0</tspan><tspan x="11.60" y="-5.9" font-size="9">3</tspan><tspan x="17.00" y="0" font-size="14">a</tspan><tspan x="23.80" y="-5.9" font-size="9">3</tspan><tspan x="28.60" y="1.6" font-size="15.5">&lt;</tspan><tspan x="40.30" y="0" font-size="14">j</tspan><tspan x="44.60" y="2.4" font-size="9.5">ϕ</tspan><tspan x="51.40" y="1.6" font-size="15.5">&gt;</tspan><tspan x="61.40" y="2.4" font-size="9.5">c</tspan><tspan x="65.10" y="0" font-size="14">/</tspan><tspan x="70.20" y="0" font-size="14">e</tspan></text>
</svg>
</body></html>
